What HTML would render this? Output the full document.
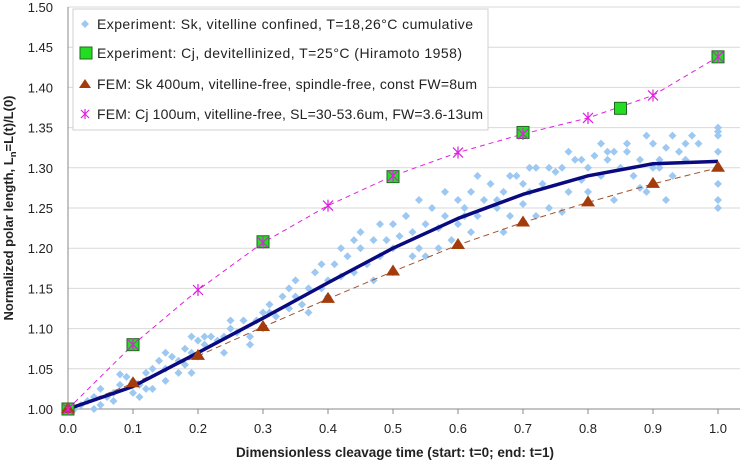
<!DOCTYPE html>
<html><head><meta charset="utf-8"><style>
body{margin:0;background:#fff;}
svg text{font-family:"Liberation Sans",sans-serif;}
</style></head><body>
<svg id="chart" width="754" height="465" xmlns="http://www.w3.org/2000/svg">
<g id="grid"></g>
<g id="axes"></g>
<g id="marks"></g>
<text x="395" y="457" text-anchor="middle" font-size="13.5" font-weight="bold" fill="#222">Dimensionless cleavage time (start: t=0; end: t=1)</text>
<text transform="translate(13,208) rotate(-90)" text-anchor="middle" font-size="13" font-weight="bold" fill="#222">Normalized polar length, L<tspan font-size="9.5" dy="3">n</tspan><tspan dy="-3">=L(t)/L(0)</tspan></text>
<g>
<rect x="73" y="9" width="415" height="121" fill="#fff" stroke="#d0d0d0"/>
<g><path d="M85,20 l4,4 l-4,4 l-4,-4z" fill="#9dc8f2"/><text x="97" y="29" font-size="14" textLength="376" fill="#222">Experiment: Sk, vitelline confined, T=18,26°C cumulative</text></g>
<g><rect x="80" y="47" width="12" height="12" fill="#22dd22" stroke="#226622"/><text x="97" y="58" font-size="14" textLength="365" fill="#222">Experiment: Cj, devitellinized, T=25°C  (Hiramoto 1958)</text></g>
<g><path d="M85,79 l6,9 h-12z" fill="#a33c0a"/><text x="97" y="89" font-size="14" textLength="380" fill="#222">FEM: Sk 400um, vitelline-free, spindle-free, const FW=8um</text></g>
<g><path d="M81,110 l8,8 M89,110 l-8,8 M85,109 v10" stroke="#e020e0" stroke-width="1.2"/><text x="97" y="119" font-size="14" textLength="386" fill="#222">FEM: Cj 100um, vitelline-free, SL=30-53.6um, FW=3.6-13um</text></g>
</g>
</svg>
<script>
const xTicks=[0,0.1,0.2,0.3,0.4,0.5,0.6,0.7,0.8,0.9,1.0];
const yTicks=[1.00,1.05,1.10,1.15,1.20,1.25,1.30,1.35,1.40,1.45,1.50];
const cjExpX=[0,0.1,0.3,0.5,0.7,0.85,1.0];
const cjExpY=[1.0,1.08,1.208,1.289,1.344,1.374,1.438];
const femCjX=[0,0.1,0.2,0.3,0.4,0.5,0.6,0.7,0.8,0.9,1.0];
const femCjY=[1.0,1.08,1.148,1.207,1.253,1.29,1.319,1.342,1.362,1.39,1.438];
const femSkX=[0,0.1,0.2,0.3,0.4,0.5,0.6,0.7,0.8,0.9,1.0];
const femSkY=[1.0,1.032,1.066,1.102,1.137,1.171,1.204,1.232,1.257,1.28,1.3];
const trendX=[0,0.1,0.2,0.3,0.4,0.5,0.6,0.7,0.8,0.9,1.0];
const trendY=[1.0,1.028,1.07,1.113,1.157,1.2,1.237,1.267,1.29,1.305,1.308];
const skX=[0.01,0.02,0.03,0.04,0.04,0.05,0.05,0.06,0.07,0.08,
0.08,0.09,0.1,0.1,0.11,0.11,0.12,0.12,0.13,0.14,
0.15,0.15,0.16,0.17,0.17,0.18,0.18,0.19,0.19,0.2,
0.2,0.21,0.22,0.23,0.24,0.24,0.25,0.26,0.27,0.28,
0.29,0.3,0.3,0.31,0.32,0.33,0.34,0.35,0.35,0.36,
0.37,0.38,0.39,0.4,0.4,0.41,0.42,0.43,0.44,0.45,
0.46,0.47,0.48,0.49,0.5,0.5,0.51,0.52,0.53,0.54,
0.55,0.56,0.57,0.58,0.59,0.6,0.6,0.61,0.62,0.63,
0.64,0.65,0.66,0.67,0.68,0.69,0.7,0.7,0.71,0.72,
0.73,0.74,0.75,0.76,0.77,0.78,0.79,0.8,0.8,0.81,
0.82,0.83,0.84,0.85,0.86,0.87,0.88,0.89,0.9,0.9,
0.91,0.92,0.93,0.94,0.95,0.96,1.0,1.0,1.0,1.0,
1.0,1.0,1.0,1.0,0.92,0.88,0.76,0.67,0.57,0.47,
0.37,0.28,0.19,0.13,0.07,0.55,0.62,0.72,0.83,0.95,
0.45,0.48,0.52,0.54,0.58,0.61,0.63,0.66,0.68,0.71,
0.74,0.77,0.79,0.82,0.84,0.86,0.89,0.91,0.93,0.97,
0.15,0.21,0.25,0.31,0.34,0.39,0.42,0.44,0.5,0.53];
const skY=[1.0,1.005,1.01,1.0,1.015,1.025,1.005,1.015,1.02,1.03,
1.043,1.04,1.035,1.02,1.03,1.015,1.045,1.025,1.05,1.06,
1.05,1.035,1.065,1.06,1.045,1.075,1.055,1.09,1.07,1.085,
1.065,1.08,1.09,1.085,1.09,1.07,1.1,1.095,1.11,1.09,
1.11,1.12,1.1,1.13,1.115,1.14,1.125,1.14,1.16,1.13,
1.15,1.17,1.15,1.16,1.14,1.18,1.165,1.19,1.17,1.2,
1.18,1.21,1.19,1.21,1.2,1.23,1.215,1.24,1.22,1.2,
1.23,1.25,1.225,1.24,1.21,1.26,1.23,1.25,1.27,1.24,
1.26,1.28,1.25,1.27,1.24,1.29,1.28,1.255,1.27,1.3,
1.28,1.25,1.295,1.3,1.27,1.31,1.285,1.3,1.27,1.315,
1.29,1.31,1.26,1.3,1.32,1.29,1.31,1.27,1.33,1.3,
1.31,1.325,1.29,1.32,1.33,1.34,1.35,1.34,1.32,1.3,
1.28,1.26,1.25,1.345,1.26,1.275,1.245,1.22,1.2,1.16,
1.12,1.08,1.045,1.025,1.01,1.19,1.22,1.24,1.32,1.31,
1.22,1.23,1.24,1.26,1.27,1.24,1.29,1.26,1.29,1.3,
1.3,1.32,1.31,1.33,1.32,1.33,1.34,1.3,1.34,1.33,
1.07,1.09,1.11,1.12,1.15,1.18,1.2,1.21,1.17,1.19];

const X0=68,X1=718,Y0=409,Y1=7,RIGHT=740;
const xs=v=>X0+(X1-X0)*v;
const ys=v=>Y0-(Y0-Y1)*(v-1.0)/0.5;
const NS='http://www.w3.org/2000/svg';
function mk(tag,parent,attrs){const e=document.createElementNS(NS,tag);for(const k in attrs)e.setAttribute(k,attrs[k]);parent.appendChild(e);return e;}
const grid=document.getElementById('grid'),axes=document.getElementById('axes'),marks=document.getElementById('marks');
yTicks.forEach(t=>{
 const l=mk('line',grid,{x1:X0,x2:RIGHT,y1:ys(t),y2:ys(t),stroke:'#d9d9d9'});
 
 
 const tx=mk('text',axes,{x:X0-15,y:ys(t)+5,'text-anchor':'end','font-size':'13',fill:'#222'});
 tx.textContent=t.toFixed(2);
 
 
});
xTicks.forEach(t=>{
 const l=mk('line',axes,{x1:xs(t),x2:xs(t),y1:Y0,y2:Y0+5,stroke:'#888'});
 
 
 const tx=mk('text',axes,{x:xs(t),y:Y0+24,'text-anchor':'middle','font-size':'13',fill:'#222'});
 tx.textContent=t.toFixed(1);
 
 
});
const ya=mk('line',axes,{x1:X0,x2:X0,y1:Y1,y2:Y0,stroke:'#888'});


const xa=mk('line',axes,{x1:X0,x2:RIGHT,y1:Y0,y2:Y0,stroke:'#888'});



skX.forEach((x,i)=>{
 const cx=xs(x),cy=ys(skY[i]);
 const p=mk('path',marks,{d:`M${cx},${cy-4} l4,4 l-4,4 l-4,-4z`,fill:'#9dc8f2'});
 
 
});
function pathOf(X,Y){return X.map((x,i)=>(i?'L':'M')+xs(x)+','+ys(Y[i])).join(' ');}
const cjl=mk('path',marks,{d:pathOf(femCjX,femCjY),fill:'none',stroke:'#e020e0','stroke-dasharray':'5,4','stroke-width':1});


const skl=mk('path',marks,{d:pathOf(femSkX,femSkY),fill:'none',stroke:'#a0522d','stroke-dasharray':'6,4','stroke-width':1});


const tr=mk('path',marks,{d:pathOf(trendX,trendY),fill:'none',stroke:'#0a0a80','stroke-width':3.5,'stroke-linejoin':'round'});


cjExpX.forEach((x,i)=>{
 const r=mk('rect',marks,{x:xs(x)-6,y:ys(cjExpY[i])-6,width:12,height:12,fill:'#22dd22',stroke:'#226622'});
 
 
});
femSkX.forEach((x,i)=>{
 const cx=xs(x),cy=ys(femSkY[i]);
 const p=mk('path',marks,{d:`M${cx},${cy-7} l7,11 h-14z`,fill:'#a33c0a'});
 
 
});
femCjX.forEach((x,i)=>{
 const cx=xs(x),cy=ys(femCjY[i]);
 const p=mk('path',marks,{d:`M${cx-5},${cy-5} l10,10 M${cx+5},${cy-5} l-10,10 M${cx},${cy-6} v12`,stroke:'#e020e0','stroke-width':1.2});
 
 
});
</script>
</body></html>
